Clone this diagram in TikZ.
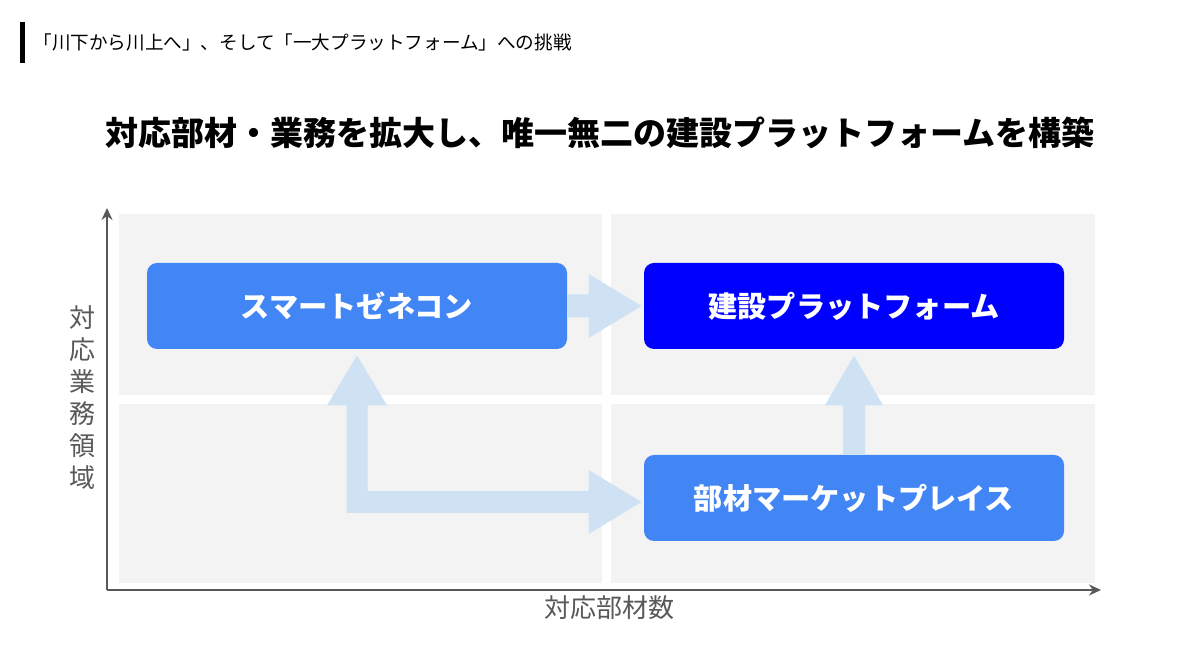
\documentclass[tikz,border=0pt]{standalone}
\usepackage{fontspec}
\setmainfont{Noto Sans CJK JP}
\usetikzlibrary{calc,arrows.meta}
\definecolor{boxblue}{HTML}{4285F4}
\definecolor{platblue}{HTML}{0000FF}
\definecolor{arrowblue}{HTML}{CFE2F3}
\definecolor{quadgray}{HTML}{F3F3F3}
\definecolor{axisgray}{HTML}{595959}
\begin{document}
\begin{tikzpicture}[x=0.5pt,y=-0.5pt,
  quad/.style={fill=quadgray},
  bluebox/.style={fill=boxblue, rounded corners=5pt, minimum width=210pt, minimum height=43pt, text=white, font=\fontsize{14.6pt}{16pt}\selectfont\bfseries, inner sep=0pt},
  platbox/.style={bluebox, fill=platblue},
  fatarrow/.style={fill=arrowblue},
  axis/.style={draw=axisgray, line width=1.3pt, -{Stealth[length=6pt,width=5.5pt]}},
  axlabel/.style={text=axisgray, font=\fontsize{13pt}{16pt}\selectfont, inner sep=0pt}]
\useasboundingbox (0,0) rectangle (1200,672);
\fill[white] (0,0) rectangle (1200,672);
% header
\fill[black] (20,22) rectangle (25,63);
\node[anchor=west, inner sep=0pt, font=\fontsize{9.3pt}{11pt}\selectfont] (head) at (33,42) {「川下から川上へ」、そして「一大プラットフォーム」への挑戦};
% title
\node[inner sep=0pt, font=\fontsize{16.5pt}{18pt}\selectfont\bfseries] (title) at (600,133) {対応部材・業務を拡大し、唯一無二の建設プラットフォームを構築};
% quadrants
\fill[quad] (119,214) rectangle (602,395);
\fill[quad] (611,214) rectangle (1095,395);
\fill[quad] (119,404) rectangle (602,583);
\fill[quad] (611,404) rectangle (1095,583);
% axes
\coordinate (o) at (107,590);
\coordinate (ytip) at (107,208);
\coordinate (xtip) at (1101,590);
\draw[axis] (o) -- (ytip);
\draw[axis] (o) -- (xtip);
\node[axlabel, align=center] (ylab) at (82,398) {対\\応\\業\\務\\領\\域};
\node[axlabel] (xlab) at (609,608) {対応部材数};
% boxes
\node[bluebox] (smart) at (357,306) {スマートゼネコン};
\node[platbox] (plat) at (854,306) {建設プラットフォーム};
\node[bluebox] (market) at (854,498) {部材マーケットプレイス};
% arrow smart -> plat
\coordinate (t1) at ($(plat.west)+(-2,0)$);
\fill[fatarrow] ($(smart.east)+(0,-11.5)$) -- ($(t1)+(-53,-11.5)$) -- ($(t1)+(-53,-32)$) -- (t1)
  -- ($(t1)+(-53,32)$) -- ($(t1)+(-53,11.5)$) -- ($(smart.east)+(0,11.5)$) -- cycle;
% arrow market -> plat
\coordinate (t2) at ($(plat.south)+(0,6)$);
\fill[fatarrow] ($(market.north)+(-11,0)$) -- ($(t2)+(-11,50)$) -- ($(t2)+(-29,50)$) -- (t2)
  -- ($(t2)+(29,50)$) -- ($(t2)+(11,50)$) -- ($(market.north)+(11,0)$) -- cycle;
% L arrow smart <-> market
\coordinate (t3) at ($(smart.south)+(0,6)$);
\coordinate (t4) at ($(market.west)+(-2,4)$);
\coordinate (c) at (t3 |- t4);
\fill[fatarrow] ($(t3)+(-10.5,50)$) -- ($(t3)+(-30,50)$) -- (t3) -- ($(t3)+(30,50)$) -- ($(t3)+(10.5,50)$)
  -- ($(c)+(10.5,-11)$) -- ($(t4)+(-53,-11)$) -- ($(t4)+(-53,-32)$) -- (t4) -- ($(t4)+(-53,32)$)
  -- ($(t4)+(-53,11)$) -- ($(c)+(-10.5,11)$) -- cycle;
\end{tikzpicture}
\end{document}
